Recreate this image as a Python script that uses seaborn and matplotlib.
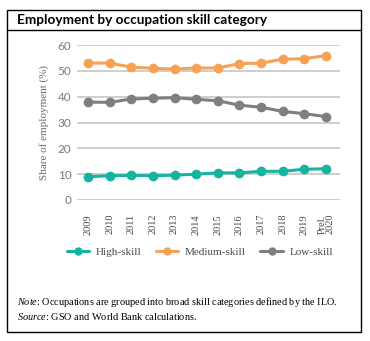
import matplotlib
matplotlib.use("Agg")
import matplotlib.pyplot as plt
import seaborn as sns
import pandas as pd
import numpy as np
from matplotlib.patches import Rectangle
from matplotlib.lines import Line2D

years = ["2009", "2010", "2011", "2012", "2013", "2014", "2015", "2016", "2017", "2018", "2019", "Prel.\n2020"]
high_skill = [9.0, 9.4, 9.5, 9.4, 9.6, 10.0, 10.5, 10.5, 11.1, 11.1, 11.9, 12.1]
medium_skill = [53.0, 53.0, 51.4, 51.0, 50.7, 51.1, 51.1, 52.8, 53.0, 54.5, 54.7, 55.9]
low_skill = [37.9, 37.8, 39.1, 39.4, 39.6, 39.0, 38.4, 36.7, 35.9, 34.3, 33.4, 32.3]
series_names = ["High-skill", "Medium-skill", "Low-skill"]
colors = ["#17B3A1", "#F7A155", "#7F7F7F"]
y_ticks = [0, 10, 20, 30, 40, 50, 60]

df = pd.DataFrame({
    "idx": list(range(len(years))) * 3,
    "value": high_skill + medium_skill + low_skill,
    "series": [series_names[0]] * len(years) + [series_names[1]] * len(years) + [series_names[2]] * len(years),
})

sns.set_style("white")
plt.rcParams["mathtext.fontset"] = "custom"
plt.rcParams["mathtext.rm"] = "Liberation Serif"
plt.rcParams["mathtext.it"] = "Liberation Serif:italic"

W, H = 370, 341
fig = plt.figure(figsize=(W / 100, H / 100), dpi=100)

def px(x0, y0, x1, y1):
    return [x0 / W, 1 - y1 / H, (x1 - x0) / W, (y1 - y0) / H]

ax = fig.add_axes(px(77, 45, 340, 200))
sns.lineplot(data=df, x="idx", y="value", hue="series", palette=colors,
             marker="o", markersize=7, markeredgewidth=0, linewidth=2.2,
             ax=ax, legend=False, clip_on=False, zorder=3)

ax.set_ylim(0, 60)
ax.set_xlim(-0.51, 11.65)
ax.set_yticks(y_ticks)
ax.yaxis.grid(True, color="#C6C6C6", linewidth=1.2)
ax.xaxis.grid(False)
for s in ax.spines.values():
    s.set_visible(False)
ax.tick_params(axis="y", length=0, pad=4, labelsize=8.5, labelcolor="#7A7A7A")
for lab in ax.get_yticklabels():
    lab.set_family("Lato")
ax.set_xticks(range(len(years)))
ax.set_xticklabels(years, rotation=90, family="Liberation Serif", fontsize=7.5,
                   color="#4A4A4A", va="top", ha="center", linespacing=0.9)
ax.tick_params(axis="x", length=0, pad=10)
ax.set_xlabel("")
ax.set_ylabel("Share of employment (%)", family="Liberation Serif", fontsize=8,
              color="#6A6A6A", labelpad=6)

# legend
handles = [Line2D([0], [0], color=c, lw=2.2, marker="o", markersize=6, markeredgewidth=0)
           for c in colors]
fig.legend(handles, series_names, loc="center", bbox_to_anchor=(200 / W, 1 - 252 / H),
           ncol=3, frameon=False, prop={"family": "Liberation Serif", "size": 8},
           handlelength=2.0, handletextpad=0.6, columnspacing=1.3, labelcolor="#4A4A4A")

# frame
fig.patches.append(Rectangle((6.5 / W, 1 - 331.5 / H), (361 - 6.5) / W, (331.5 - 9.5) / H,
                             transform=fig.transFigure, fill=False, edgecolor="black", lw=1.0))
fig.add_artist(Line2D([6.5 / W, 361 / W], [1 - 30 / H, 1 - 30 / H], transform=fig.transFigure,
                      color="black", lw=1.0))

fig.text(17 / W, 1 - 20 / H, "Employment by occupation skill category", family="Lato",
         fontweight="bold", fontsize=9.8, va="center", ha="left", color="black")

fig.text(17 / W, 1 - 302 / H, r"$\it{Note}$: Occupations are grouped into broad skill categories defined by the ILO.",
         family="Liberation Serif", fontsize=7.4, va="center", ha="left", color="black")
fig.text(17 / W, 1 - 317 / H, r"$\it{Source}$: GSO and World Bank calculations.",
         family="Liberation Serif", fontsize=7.4, va="center", ha="left", color="black")

fig.savefig("out.png", dpi=100)
